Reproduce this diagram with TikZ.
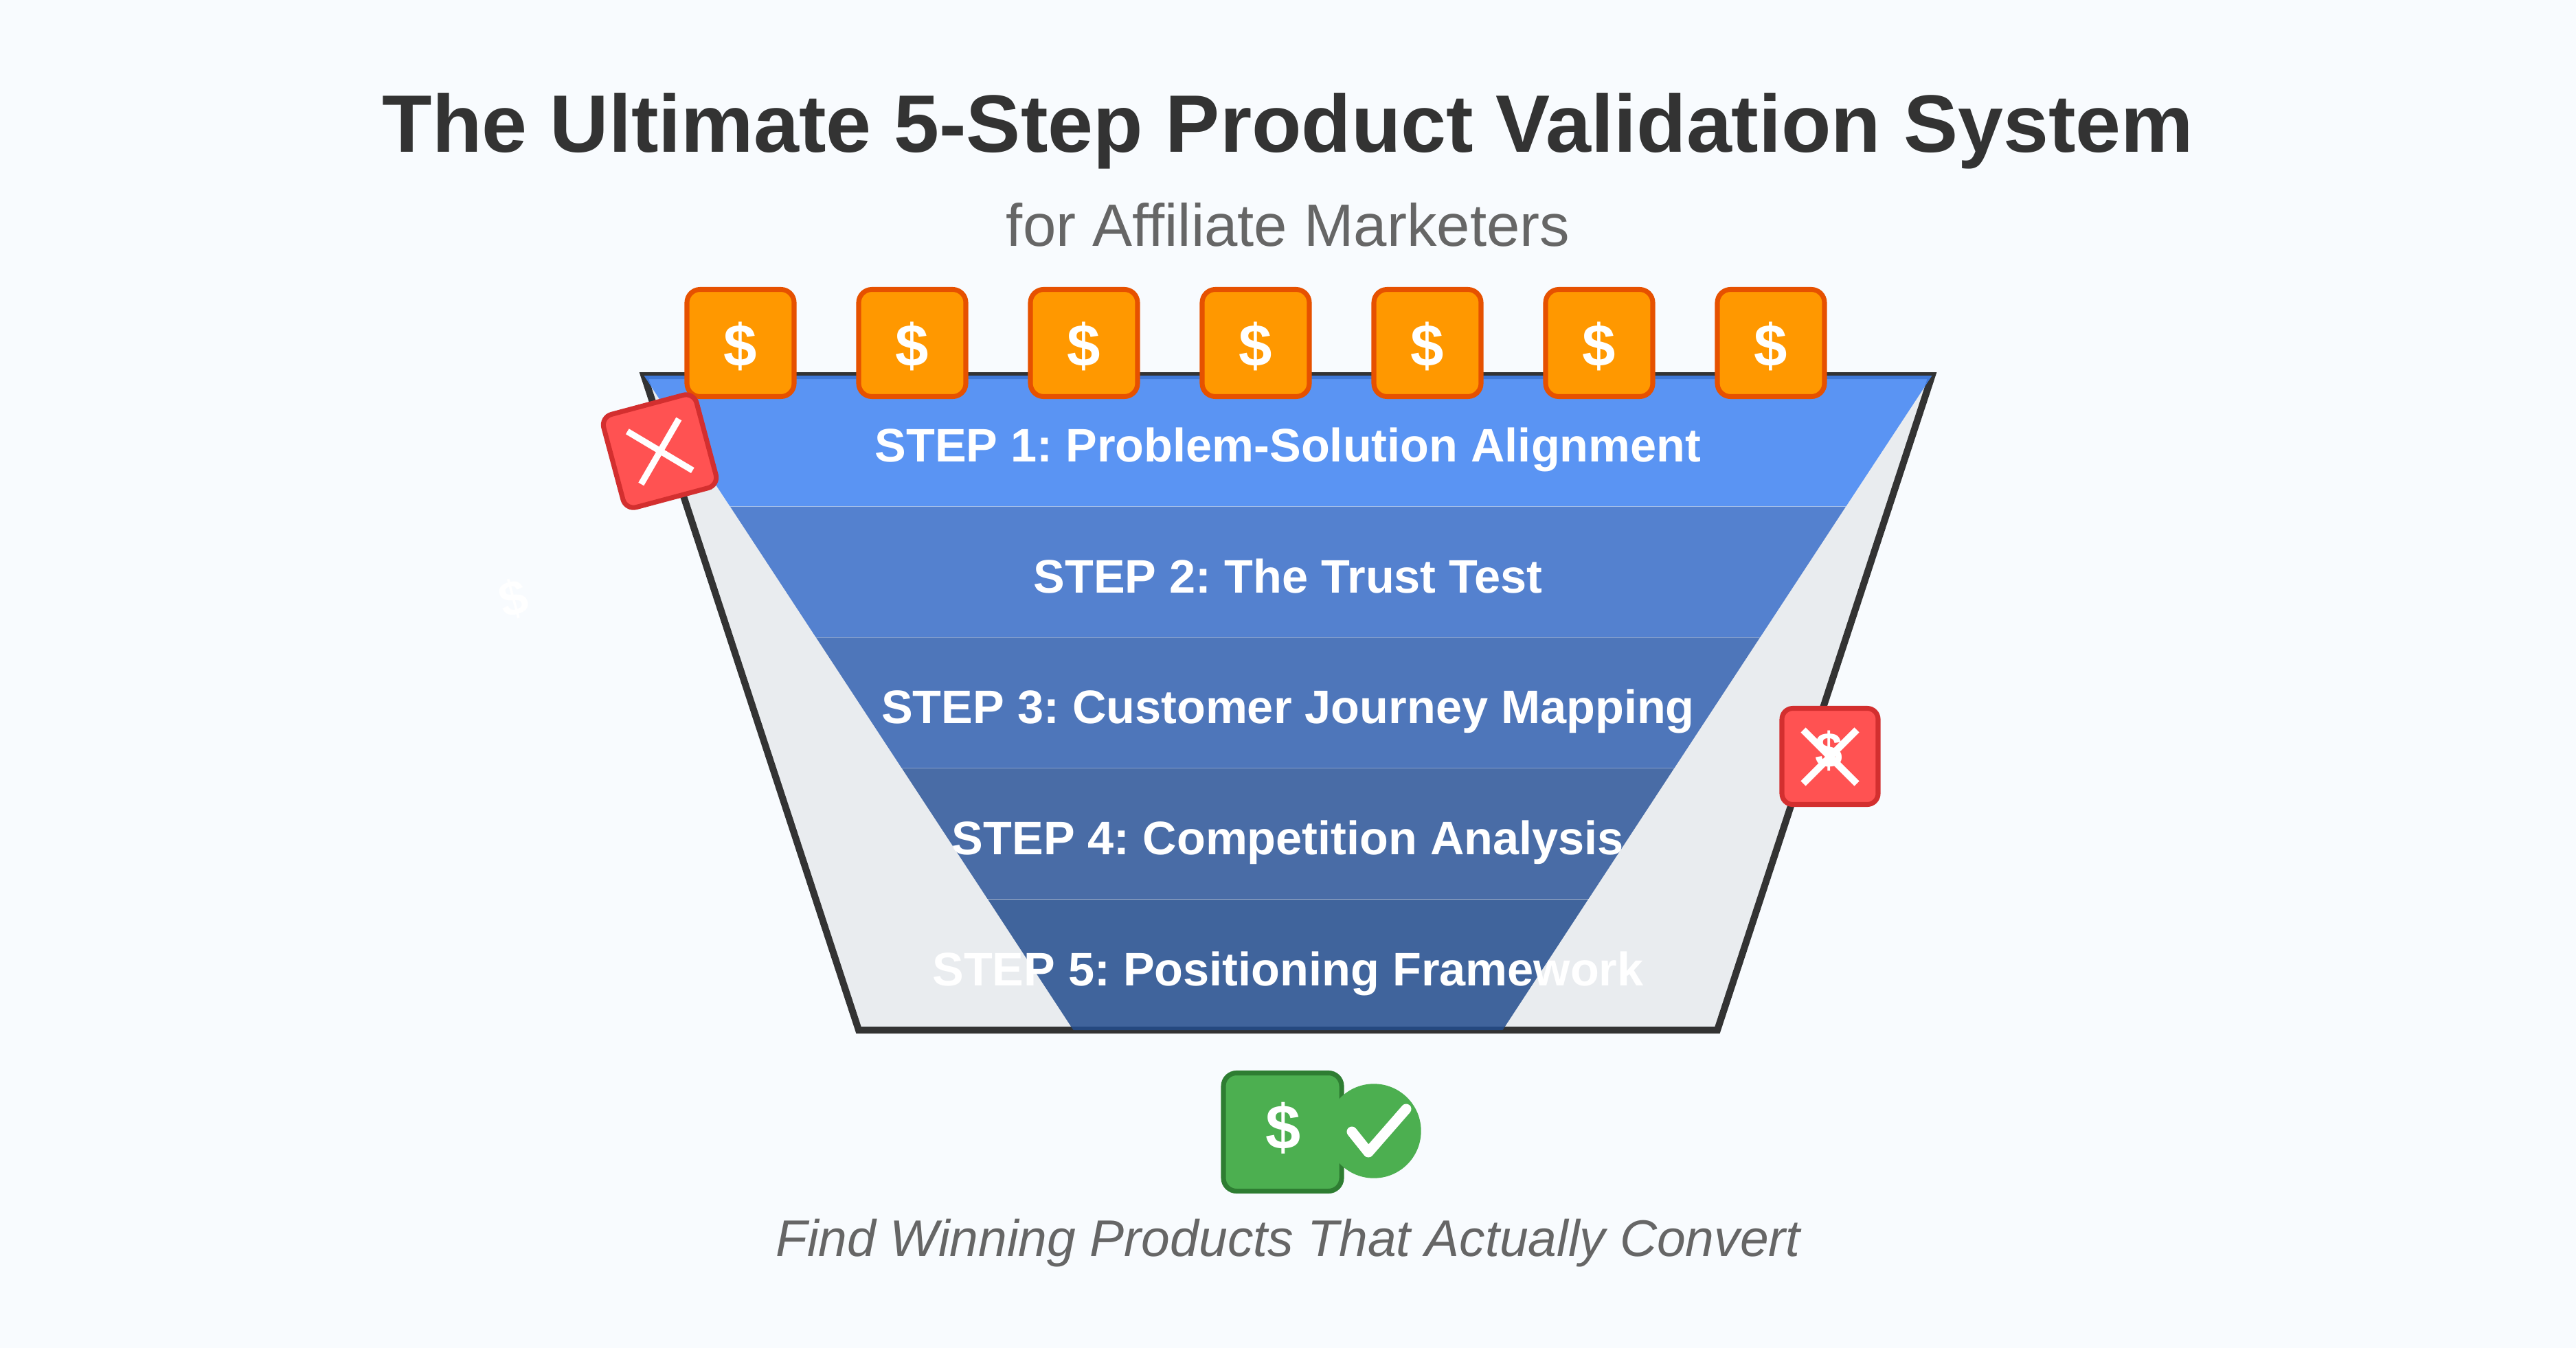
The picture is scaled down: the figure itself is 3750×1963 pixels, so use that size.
\documentclass[tikz,border=0pt]{standalone}
\usepackage{fontspec}
\setmainfont{Liberation Sans}[Ligatures=NoCommon]
\definecolor{bgc}{HTML}{F8FBFE}
\definecolor{ink}{HTML}{333333}
\definecolor{soft}{HTML}{666666}
\definecolor{fun}{HTML}{E9ECEF}
\definecolor{lay1}{HTML}{4285F4}
\definecolor{lay2}{HTML}{3B6FCA}
\definecolor{lay3}{HTML}{3462B1}
\definecolor{lay4}{HTML}{2D569A}
\definecolor{lay5}{HTML}{234D8E}
\definecolor{orf}{HTML}{FF9800}
\definecolor{ors}{HTML}{E65100}
\definecolor{ref}{HTML}{FF5252}
\definecolor{res}{HTML}{D32F2F}
\definecolor{grf}{HTML}{4CAF50}
\definecolor{grs}{HTML}{2E7D32}
\newcommand{\pxfont}[1]{\fontsize{\dimexpr#1pt*24/100\relax}{\dimexpr#1pt*29/100\relax}\selectfont\frenchspacing}
\tikzset{
  x=0.24pt,y=-0.24pt,
  layer/.style={fill opacity=0.85},
  steptext/.style={anchor=base,text=white,font=\pxfont{68.5}\bfseries,inner sep=0pt},
  coin/.style={anchor=center,draw,line width=1.7pt,rounded corners=4.6pt,inner sep=0pt,minimum size=37.44pt},
  orangebox/.style={coin,fill=orf,draw=ors},
  redbox/.style={coin,fill=ref,draw=res,minimum size=33.6pt,rounded corners=3.8pt},
  greenbox/.style={coin,fill=grf,draw=grs,minimum size=41.3pt},
  dollar/.style={anchor=center,text=white,font=\pxfont{87}\bfseries,inner sep=0pt},
  cross/.style={draw=white,line width=2.2pt},
}
\begin{document}
\begin{tikzpicture}
\useasboundingbox (0,0) rectangle (3750,1963);
\fill[bgc] (0,0) rectangle (3750,1963);
\node[anchor=base,text=ink,font=\pxfont{118.6}\bfseries,inner sep=0pt] (title) at (1875,222) {The Ultimate 5-Step Product Validation System};
\node[anchor=base,text=soft,font=\pxfont{87},inner sep=0pt] (subtitle) at (1875,359) {for Affiliate Marketers};
\draw[ink,fill=fun,line width=2.4pt,miter limit=10] (937.5,547) -- (2812.5,547) -- (2500,1500) -- (1250,1500) -- cycle;
\fill[lay1,layer] (937.5,547) -- (2812.5,547) -- (2687.4,737.3) -- (1062.6,737.3) -- cycle;
\fill[lay2,layer] (1063,737.8) -- (2687,737.8) -- (2562.4,927.9) -- (1187.6,927.9) -- cycle;
\fill[lay3,layer] (1188,928.4) -- (2562,928.4) -- (2437.4,1118.5) -- (1312.6,1118.5) -- cycle;
\fill[lay4,layer] (1313,1119) -- (2437,1119) -- (2312.4,1309.1) -- (1437.6,1309.1) -- cycle;
\fill[lay5,layer] (1438,1309.6) -- (2312,1309.6) -- (2187.5,1500) -- (1562.5,1500) -- cycle;
\node[steptext] (s1) at (1875,672) {STEP 1: Problem-Solution Alignment};
\node[steptext] (s2) at (1875,863) {STEP 2: The Trust Test};
\node[steptext] (s3) at (1875,1053) {STEP 3: Customer Journey Mapping};
\node[steptext] (s4) at (1875,1244) {STEP 4: Competition Analysis};
\node[steptext] (s5) at (1875,1435) {STEP 5: Positioning Framework};
\foreach \i/\cx in {1/1078,2/1328,3/1578,4/1828,5/2078,6/2328,7/2578}{
  \node[orangebox] (o\i) at (\cx,499.5) {};
  \node[dollar] (d\i) at (\cx,504) {\$};
}
\node[redbox,rotate=15] (rl) at (960.5,657) {};
\draw[cross] (913.3,628.3) -- (1008.3,685);
\draw[cross] (988.3,610) -- (933.3,705);
\node[dollar,rotate=15,font=\pxfont{72}\bfseries] (dl) at (748,872) {\$};
\node[redbox] (rr) at (2664,1101.5) {};
\node[dollar,font=\pxfont{72}\bfseries] (dr) at (2662,1093) {\$};
\draw[cross,line width=2.4pt] (2625,1063) -- (2703,1141);
\draw[cross,line width=2.4pt] (2703,1063) -- (2625,1141);
\node[greenbox] (gb) at (1867,1648.5) {};
\node[dollar,font=\pxfont{92}\bfseries] (dg) at (1868,1643) {\$};
\fill[grf] (2000,1647) circle (68.7);
\draw[white,line width=3.6pt,line cap=round,line join=round] (1968,1648) -- (1992,1678) -- (2047,1615);
\node[anchor=base,text=soft,font=\pxfont{75}\itshape,inner sep=0pt] (tag) at (1875,1829) {Find Winning Products That Actually Convert};
\end{tikzpicture}
\end{document}
